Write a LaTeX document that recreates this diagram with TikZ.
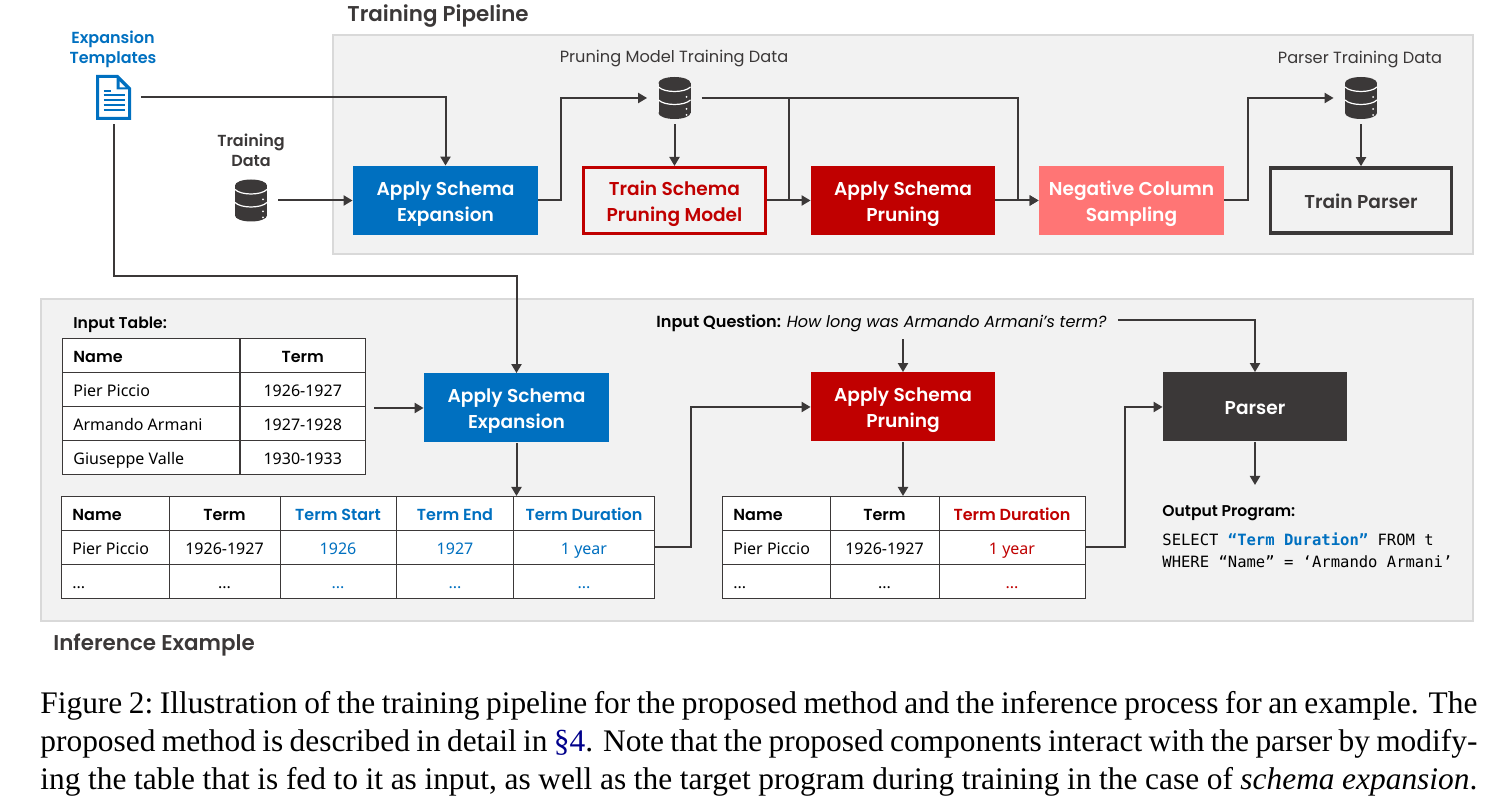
\documentclass[tikz,border=0pt]{standalone}
\usepackage{fontspec}
\setmainfont{Liberation Serif}
\newfontfamily\labelfont{Poppins}[BoldFont={Poppins SemiBold}]
\newfontfamily\cellfont{Noto Sans}
\newfontfamily\codefont{DejaVu Sans Mono}
\usetikzlibrary{positioning,arrows.meta}
\definecolor{schemablue}{HTML}{0070C0}
\definecolor{schemared}{HTML}{C00000}
\definecolor{negsalmon}{HTML}{FF7575}
\definecolor{ink}{HTML}{3B3838}
\definecolor{panelfill}{HTML}{F2F2F2}
\definecolor{panelline}{HTML}{D9D9D9}
\definecolor{citeblue}{HTML}{00008B}
\newcommand{\hd}[1]{\labelfont\bfseries #1}
\newcommand{\dts}{...}
\tikzset{
  panel/.style={draw=panelline,line width=1pt,fill=panelfill,inner sep=0},
  stage/.style={minimum width=92pt,minimum height=34.5pt,inner sep=0,align=center,text height=21pt,text depth=0pt,
    font=\labelfont\fontsize{9.3}{13}\selectfont\bfseries,text=white},
  title/.style={inner sep=0,font=\labelfont\fontsize{10.7}{13}\selectfont\bfseries,text=ink},
  label/.style={inner sep=0,align=center,font=\labelfont\fontsize{8.1}{10}\selectfont,text=ink},
  cell/.style={draw=ink,line width=.5pt,fill=white,minimum height=17pt,inner sep=0,text height=9pt,text depth=2pt,
    font=\cellfont\fontsize{8}{10}\selectfont,text=black},
  celltext/.style={inner sep=0,anchor=west,text height=9pt,text depth=2pt,font=\cellfont\fontsize{8}{10}\selectfont,text=black},
  frame/.style={draw=ink,line width=.5pt,inner sep=0},
  icon/.style={minimum width=27pt,minimum height=26pt,inner sep=0},
  flow/.style={->,draw=ink,line width=1pt},
  dbcyl/.pic={
    \fill[ink] (-16,-15) rectangle (16,15);
    \fill[ink] (0,-15) ellipse [x radius=16,y radius=6];
    \fill[ink] (0,15) ellipse [x radius=16,y radius=6];
    \draw[white,line width=.6pt] (-16,-11) .. controls (-10,-5) and (10,-5) .. (16,-11);
    \draw[white,line width=.6pt] (-16,2) .. controls (-10,8) and (10,8) .. (16,2);
    \foreach \dy in {-1,11,17} \fill[white] (12,\dy) circle (1);
  },
  docsheet/.pic={
    \draw[schemablue,line width=1.5pt,line join=miter] (-16,-21) -- (4,-21) -- (16,-9) -- (16,21) -- (-16,21) -- cycle;
    \fill[schemablue] (3,-21) -- (16,-8) -- (3,-8) -- cycle;
    \fill[white] (6,-16) -- (12,-10) -- (6,-10) -- cycle;
    \draw[schemablue,line width=1pt] (-10,-6) -- (-3,-6);
    \foreach \dy in {-2,3,8,13} \draw[schemablue,line width=1pt] (-10,\dy) -- (11,\dy);
  }
}
\begin{document}
\begin{tikzpicture}[x=.5pt,y=-.5pt,>={Triangle[length=4.5pt,width=5pt]}]
\useasboundingbox (0,0) rectangle (1506,806);
% panels
\node[panel,minimum width=570pt,minimum height=109.5pt] (trainpanel) at (903,144.5) {};
\node[panel,minimum width=716pt,minimum height=161pt] (inferpanel) at (757,460) {};
\node[title,anchor=west] (traintitle) at (347,16) {Training Pipeline};
\node[title,anchor=west] (infertitle) at (53,645) {Inference Example};
% training pipeline
\node[label,font=\labelfont\fontsize{8}{10}\selectfont\bfseries,text=schemablue] (tmpllabel) at (113,49) {Expansion\\Templates};
\node[icon,minimum height=26.5pt] (tmpl) at (113.5,97.5) {};
\pic at (tmpl) {docsheet};
\node[label,font=\labelfont\fontsize{8}{10}\selectfont\bfseries] (tdlabel) at (251,150.5) {Training\\Data};
\node[icon] (traindata) at (251,200.5) {};
\pic at (traindata) {dbcyl};
\node[label] (pmlabel) at (674,59) {Pruning Model Training Data};
\node[icon] (prunedata) at (674.5,98) {};
\pic at (prunedata) {dbcyl};
\node[label] (ptlabel) at (1360,60) {Parser Training Data};
\node[icon] (parsedata) at (1361,98) {};
\pic at (parsedata) {dbcyl};
\node[stage,fill=schemablue,minimum width=92.5pt] (expand) at (445.5,200.5) {Apply Schema\\Expansion};
\node[stage,draw=schemared,line width=1.5pt,fill=panelfill,text=schemared,minimum width=91pt,minimum height=33pt] (trainprune) at (674.5,200.5) {Train Schema\\Pruning Model};
\node[stage,fill=schemared] (prune) at (903,200.5) {Apply Schema\\Pruning};
\node[stage,fill=negsalmon,minimum width=92.5pt] (negsample) at (1131.5,200.5) {Negative Column\\Sampling};
\node[stage,draw=ink,line width=1.8pt,fill=panelfill,text=ink,text height=8pt,minimum width=90.5pt,minimum height=32.5pt] (trainparser) at (1361,200.5) {Train Parser};
\draw[flow] (tmpl.east) -| (expand.north);
\draw[flow] (traindata.east) -- (expand.west);
\draw[flow] (expand.east) -- ++(23,0) |- (prunedata.west);
\draw[flow] (prunedata.south) -- (trainprune.north);
\draw[flow] (trainprune.east) -- (prune.west);
\draw[draw=ink,line width=1pt] (prunedata.east) -- ++(87,0) -- ++(0,102.5);
\draw[flow] (prunedata.east) -- ++(316,0) |- (negsample.west);
\draw[flow] (prune.east) -- (negsample.west);
\draw[flow] (negsample.east) -- ++(24,0) |- (parsedata.west);
\draw[flow] (parsedata.south) -- (trainparser.north);
% inference example
\coordinate (bend) at (516.5,276);
\node[stage,fill=schemablue,minimum width=92.5pt] (expandb) at (516.5,408) {Apply Schema\\Expansion};
\draw[flow] (tmpl.south) |- (bend) -- (expandb.north);
\node[inner sep=0,anchor=west,font=\labelfont\fontsize{7.8}{10}\selectfont\bfseries,text=black] (intablelabel) at (73,324.5) {Input Table:};
% input table
\foreach \cx/\cw/\ct in {150.75/177.5/{},302.75/125.5/\hd{Term}}
  \node[cell,minimum width=\cw*.5pt] at (\cx,356) {\ct};
\foreach \ry/\ct in {390/1926-1927,424/1927-1928,458/1930-1933}{
  \node[cell,minimum width=88.75pt] at (150.75,\ry) {};
  \node[cell,minimum width=62.75pt] at (302.75,\ry) {\ct};
}
\foreach \ry/\ct in {356/\hd{Name},390/Pier Piccio,424/Armando Armani,458/Giuseppe Valle}
  \node[celltext] at (73,\ry) {\ct};
\node[frame,minimum width=151.75pt,minimum height=68pt] (intable) at (213.75,407) {};
\draw[flow,shorten <=4pt] (intable.east |- expandb.west) -- (expandb.west);
% expanded table
\foreach \cx/\cw/\ca/\cb/\cc in {
  115/108/{}/{}/{},
  224.5/111/\hd{Term}/1926-1927/\dts,
  338/116/\textcolor{schemablue}{\hd{Term Start}}/\textcolor{schemablue}{1926}/\textcolor{schemablue}{\dts},
  455/117.5/\textcolor{schemablue}{\hd{Term End}}/\textcolor{schemablue}{1927}/\textcolor{schemablue}{\dts},
  584/141.5/\textcolor{schemablue}{\hd{Term Duration}}/\textcolor{schemablue}{1 year}/\textcolor{schemablue}{\dts}}{
  \node[cell,minimum width=\cw*.5pt] at (\cx,513.5) {\ca};
  \node[cell,minimum width=\cw*.5pt] at (\cx,547.5) {\cb};
  \node[cell,minimum width=\cw*.5pt] at (\cx,581.5) {\cc};
}
\foreach \ry/\ct in {513.5/\hd{Name},547.5/Pier Piccio,581.5/\dts}
  \node[celltext] at (72,\ry) {\ct};
\node[frame,minimum width=296.9pt,minimum height=51pt] (exptable) at (357.9,547.5) {};
\draw[flow] (expandb.south) -- (expandb.south |- exptable.north);
% pruned table
\foreach \cx/\cw/\ca/\cb/\cc in {
  776/108/{}/{}/{},
  884.5/109/\hd{Term}/1926-1927/\dts,
  1012/146/\textcolor{schemared}{\hd{Term Duration}}/\textcolor{schemared}{1 year}/\textcolor{schemared}{\dts}}{
  \node[cell,minimum width=\cw*.5pt] at (\cx,513.5) {\ca};
  \node[cell,minimum width=\cw*.5pt] at (\cx,547.5) {\cb};
  \node[cell,minimum width=\cw*.5pt] at (\cx,581.5) {\cc};
}
\foreach \ry/\ct in {513.5/\hd{Name},547.5/Pier Piccio,581.5/\dts}
  \node[celltext] at (733,\ry) {\ct};
\node[frame,minimum width=181.5pt,minimum height=51pt] (prtable) at (903.5,547.5) {};
% question, pruning, parser
\node[inner sep=0,inner xsep=5.5pt,minimum height=16pt,font=\labelfont\fontsize{8.05}{10}\selectfont,text=black] (question) at (881.5,323) {\textbf{Input Question:} \textit{How long was Armando Armani’s term?}};
\node[stage,fill=schemared] (pruneb) at (903,407) {Apply Schema\\Pruning};
\node[stage,fill=ink,text height=8pt] (parser) at (1255,407) {Parser};
\coordinate (outtip) at (1255,485);
\draw[flow] (question.south -| pruneb.north) -- (pruneb.north);
\draw[flow] (question.east |- parser.north) ++(0,-52) -| (parser.north);
\draw[flow] (exptable.east) -- ++(36,0) |- (pruneb.west);
\draw[flow] (pruneb.south) -- (pruneb.south |- prtable.north);
\draw[flow] (prtable.east) -- ++(39,0) |- (parser.west);
\draw[flow] (parser.south) -- (outtip);
\node[inner sep=0,anchor=west,font=\labelfont\fontsize{7.8}{10}\selectfont\bfseries,text=black] (outlabel) at (1162,513) {Output Program:};
\node[inner sep=0,anchor=north west,align=left,font=\codefont\fontsize{7.77}{11}\selectfont,text=black] (program) at (1162,532) {SELECT \textcolor{schemablue}{\bfseries “Term Duration”} FROM t\\WHERE “Name” = ‘Armando Armani’};
% caption
\node[inner sep=0,anchor=north west,align=left,font=\fontsize{15.7}{19}\selectfont] (caption) at (40,690.5) {%
\hbox to 718.5pt{Figure 2:\ Illustration of the training pipeline for the proposed method and the inference process for an example. The}\\
\hbox to 718.5pt{proposed method is described in detail in \textcolor{citeblue}{§4}. Note that the proposed components interact with the parser by modify-}\\
\hbox to 718.5pt{ing the table that is fed to it as input, as well as the target program during training in the case of \emph{schema expansion}.}};
\end{tikzpicture}
\end{document}
